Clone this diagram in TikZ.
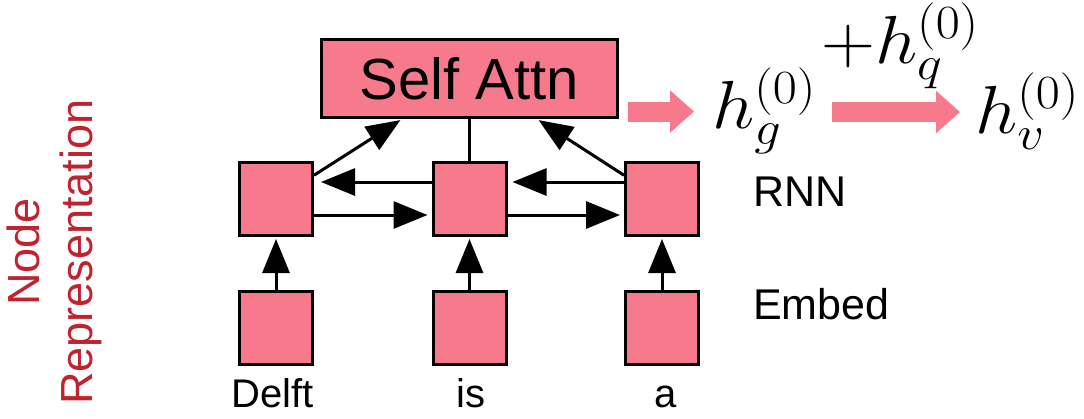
\RequirePackage{fix-cm}
\documentclass[tikz,border=0pt]{standalone}
\usepackage{fontspec}
\usepackage{graphicx}
\setmainfont{Liberation Sans}
\usetikzlibrary{arrows.meta,calc}
\definecolor{boxpink}{RGB}{246,122,139}
\definecolor{labelred}{RGB}{192,34,46}
\newcommand{\widemath}[1]{\scalebox{1.1}[1]{$#1$}}
\begin{document}
\begin{tikzpicture}[x=1pt,y=-1pt,
  cell/.style={draw=black,line width=3pt,fill=boxpink,minimum width=73pt,minimum height=73pt,inner sep=0pt},
  attnbox/.style={draw=black,line width=3pt,fill=boxpink,minimum width=296pt,minimum height=78pt,inner sep=0pt,
    font=\fontsize{58}{60}\selectfont},
  link/.style={line width=3pt,-{Triangle[length=34pt,width=27pt]}},
  plain/.style={line width=3pt},
  fat/.style={draw=boxpink,line width=20pt,-{Triangle[length=24pt,width=41pt]}},
  word/.style={inner sep=0pt,anchor=base,font=\fontsize{40}{44}\selectfont},
  rowlabel/.style={inner sep=0pt,anchor=base west,font=\fontsize{43}{46}\selectfont},
  mathlabel/.style={inner sep=0pt,anchor=base west,font=\fontsize{68}{70}\selectfont}]
\useasboundingbox (0,0) rectangle (1084,418);

% attention block
\node[attnbox] (sa) at (469.5,78.5) {Self Attn};

% RNN layer
\node[cell] (r1) at (276,199) {};
\node[cell] (r2) at (469.5,199) {};
\node[cell] (r3) at (662,199) {};

% embedding layer
\node[cell] (e1) at (276,327.5) {};
\node[cell] (e2) at (469.5,327.5) {};
\node[cell] (e3) at (662,327.5) {};

% input words
\node[word] (w1) at (272.5,407) {Delft};
\node[word] (w2) at (471,407) {is};
\node[word] (w3) at (666,407) {a};

% row labels
\node[rowlabel] (lrnn) at (753,206) {RNN};
\node[rowlabel] (lemb) at (753,319) {Embed};

% side label
\node[inner sep=0pt,anchor=south,rotate=90,align=center,text=labelred,
  font=\fontsize{45}{53}\selectfont] (side) at (102.5,252) {Node\\Representation};

% embed -> RNN
\draw[link,shorten >=2pt] (e1) -- (r1);
\draw[link,shorten >=2pt] (e2) -- (r2);
\draw[link,shorten >=2pt] (e3) -- (r3);

% forward and backward recurrences
\draw[link,shorten >=4pt] (r1.east |- 0,215) -- (r2.west |- 0,215);
\draw[link,shorten >=4pt] (r2.east |- 0,215) -- (r3.west |- 0,215);
\draw[link,shorten >=7pt] (r2.west |- 0,182) -- (r1.east |- 0,182);
\draw[link,shorten >=5pt] (r3.west |- 0,182) -- (r2.east |- 0,182);

% RNN -> self attention
\draw[link,shorten >=2pt] (r1.32) -- (sa.211);
\draw[link,shorten >=2pt] (r3.148) -- (sa.329);
\draw[plain] (r2.north) -- (sa.south);

% outputs
\node[mathlabel] (hg) at (712,128) {\widemath{h_g^{(0)}}};
\node[mathlabel] (hq) at (821,63) {\widemath{+h_q^{(0)}}};
\node[mathlabel] (hv) at (975,133) {\widemath{h_v^{(0)}}};

\coordinate (p1s) at (628,111.5);
\coordinate (p1e) at (694,111.5);
\coordinate (p2s) at (832,112);
\coordinate (p2e) at (960,112);
\draw[fat] (p1s) -- (p1e);
\draw[fat] (p2s) -- (p2e);
\end{tikzpicture}
\end{document}
